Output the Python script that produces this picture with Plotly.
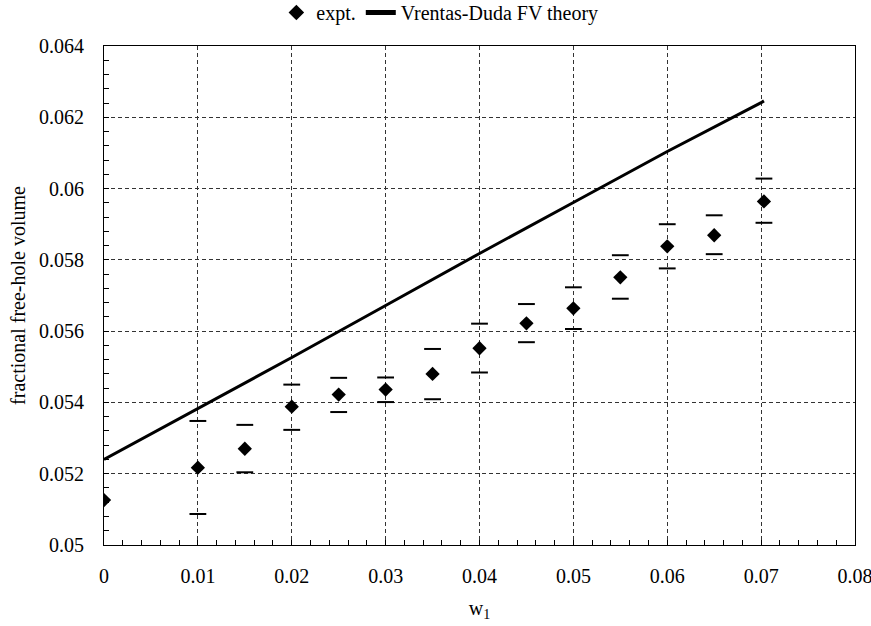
import plotly.graph_objects as go

w1 = [0, 0.01, 0.015, 0.02, 0.025, 0.03, 0.035, 0.04, 0.045, 0.05, 0.055, 0.06, 0.065, 0.0703]
expt = [0.05126, 0.05217, 0.0527, 0.05388, 0.05422, 0.05436, 0.0548, 0.05552, 0.05622,
        0.05664, 0.05751, 0.05838, 0.05869, 0.05964]
upper = [None, 0.05348, 0.05337, 0.0545, 0.05469, 0.0547, 0.0555, 0.05621, 0.05676,
         0.05723, 0.05813, 0.059, 0.05925, 0.06028]
lower = [None, 0.05087, 0.05204, 0.05323, 0.05373, 0.05401, 0.05409, 0.05484, 0.05569,
         0.05606, 0.05691, 0.05776, 0.05816, 0.05904]

theory_x = [0, 0.01, 0.02, 0.03, 0.04, 0.05, 0.06, 0.07, 0.0703]
theory_y = [0.0524, 0.05383, 0.05526, 0.05672, 0.05818, 0.05961, 0.06104, 0.06241, 0.06246]

xticks = [0, 0.01, 0.02, 0.03, 0.04, 0.05, 0.06, 0.07, 0.08]
xtick_labels = ["0", "0.01", "0.02", "0.03", "0.04", "0.05", "0.06", "0.07", "0.08"]
yticks = [0.05, 0.052, 0.054, 0.056, 0.058, 0.06, 0.062, 0.064]
ytick_labels = ["0.05", "0.052", "0.054", "0.056", "0.058", "0.06", "0.062", "0.064"]

FONT = "Liberation Serif"
FS = 20

fig = go.Figure()
fig.add_trace(go.Scatter(x=w1, y=upper, mode="markers", showlegend=False,
                         marker=dict(symbol="line-ew", size=12, line=dict(color="black", width=2))))
fig.add_trace(go.Scatter(x=w1, y=lower, mode="markers", showlegend=False,
                         marker=dict(symbol="line-ew", size=12, line=dict(color="black", width=2))))
fig.add_trace(go.Scatter(x=w1, y=expt, mode="markers", name="expt.",
                         marker=dict(symbol="diamond", size=11, color="black")))
fig.add_trace(go.Scatter(x=theory_x, y=theory_y, mode="lines", name="Vrentas-Duda FV theory",
                         line=dict(color="black", width=3)))

axis_common = dict(
    showline=True, linecolor="black", linewidth=1, mirror=True,
    showgrid=True, gridcolor="#333333", griddash="4px,3px", gridwidth=1,
    ticks="inside", ticklen=5, tickcolor="black",
    zeroline=False, ticklabeloverflow="allow",
    tickfont=dict(family=FONT, size=FS, color="black"),
)

fig.update_xaxes(range=[0, 0.08], tickvals=xticks, ticktext=xtick_labels,
                 ticklabelstandoff=13,
                 minor=dict(dtick=0.002, ticks="inside", ticklen=5, tickcolor="black", showgrid=False),
                 title=dict(text="w<sub>1</sub>", font=dict(family=FONT, size=FS, color="black"), standoff=14),
                 **axis_common)
fig.update_yaxes(range=[0.05, 0.064], tickvals=yticks, ticktext=ytick_labels,
                 ticklabelstandoff=15,
                 minor=dict(dtick=0.0004, ticks="inside", ticklen=5, tickcolor="black", showgrid=False),
                 title=dict(text="fractional free-hole volume", font=dict(family=FONT, size=FS, color="black"), standoff=8),
                 **axis_common)

fig.update_layout(
    width=871, height=626,
    margin=dict(l=104, r=16, t=46, b=81, autoexpand=False),
    plot_bgcolor="white", paper_bgcolor="white",
    font=dict(family=FONT, size=FS, color="black"),
    legend=dict(orientation="h", x=0.505, xanchor="center", y=0.98, yanchor="middle",
                xref="container", yref="container",
                font=dict(family=FONT, size=FS, color="black"), itemwidth=30,
                tracegroupgap=0, itemsizing="constant",
                bgcolor="rgba(0,0,0,0)"),
)

fig.write_html("out.html")
